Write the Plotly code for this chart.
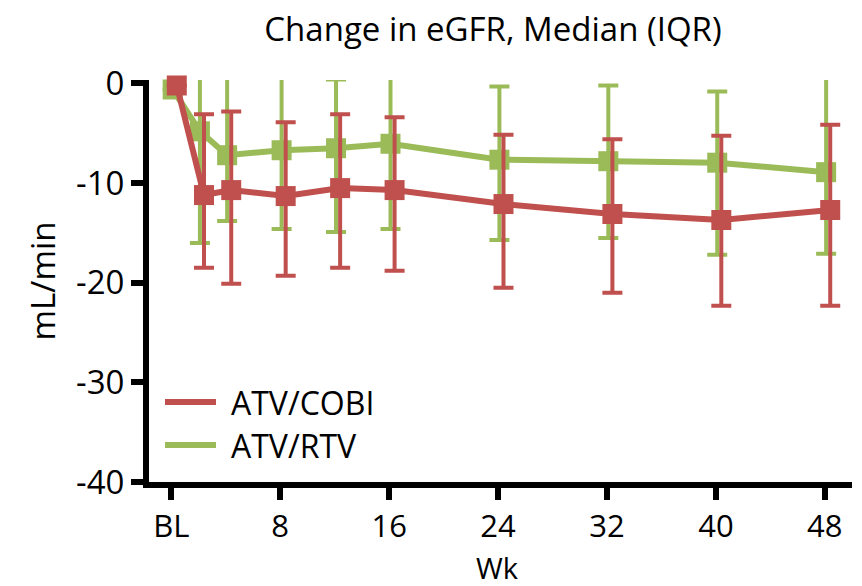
import plotly.graph_objects as go

weeks = [0, 2, 4, 8, 12, 16, 24, 32, 40, 48]
tick_weeks = [0, 8, 16, 24, 32, 40, 48]
tick_text = ["BL", "8", "16", "24", "32", "40", "48"]

cobi_median = [-0.2, -11.2, -10.7, -11.3, -10.5, -10.7, -12.1, -13.1, -13.7, -12.7]
cobi_q3 = [-0.2, -3.1, -2.8, -3.9, -3.1, -3.4, -5.15, -5.6, -5.25, -4.15]
cobi_q1 = [-0.2, -18.5, -20.1, -19.3, -18.5, -18.8, -20.5, -21.0, -22.3, -22.3]

rtv_median = [-0.6, -4.8, -7.2, -6.7, -6.5, -6.05, -7.65, -7.8, -7.95, -8.9]
rtv_q3 = [-0.6, 0.8, 1.5, 0.8, 0.4, 2.2, -0.3, -0.2, -0.8, 0.8]
rtv_q1 = [-0.6, -16.0, -13.8, -14.6, -14.9, -14.6, -15.7, -15.5, -17.2, -17.1]

RED = "#C0504D"
GREEN = "#9BBB59"
FONT = "Open Sans"

fig = go.Figure()

def add_series(name, med, q3, q1, color, nudge):
    fig.add_trace(go.Scatter(
        x=[w + nudge for w in weeks], y=med, name=name, mode="lines+markers",
        line=dict(color=color, width=6),
        marker=dict(symbol="square", size=20, color=color),
        error_y=dict(type="data", symmetric=False,
                     array=[a - m for a, m in zip(q3, med)],
                     arrayminus=[m - b for m, b in zip(med, q1)],
                     color=color, thickness=4, width=10),
        showlegend=False, cliponaxis=False,
    ))

add_series("ATV/RTV", rtv_median, rtv_q3, rtv_q1, GREEN, 0.1)
add_series("ATV/COBI", cobi_median, cobi_q3, cobi_q1, RED, 0.4)

# custom legend (paper coords: plot area spans x 149..852, y 80..482 px)
legend_items = [("ATV/COBI", RED, 402), ("ATV/RTV", GREEN, 445)]
for label, color, ypx in legend_items:
    yp = (482 - ypx) / 402
    fig.add_shape(type="line", xref="paper", yref="paper",
                  x0=(165 - 149) / 703, x1=(216 - 149) / 703, y0=yp, y1=yp,
                  line=dict(color=color, width=6))
    fig.add_annotation(text=label, xref="paper", yref="paper",
                       x=(229 - 149) / 703, y=yp, xanchor="left", yanchor="middle",
                       showarrow=False, font=dict(family=FONT, size=32, color="black"))

# x-axis title placed as an annotation just below tick labels
fig.add_annotation(text="Wk", xref="paper", yref="paper",
                   x=(497 - 149) / 703, y=(482 - 567) / 402, xanchor="center", yanchor="middle",
                   showarrow=False, font=dict(family=FONT, size=29, color="black"))

fig.update_layout(
    width=862, height=586,
    margin=dict(l=149, r=10, t=80, b=104, autoexpand=False),
    plot_bgcolor="white", paper_bgcolor="white",
    font=dict(family=FONT, size=33, color="black"),
    title=dict(text="Change in eGFR, Median (IQR)", x=493 / 862, xanchor="center",
               y=1 - 29 / 586, yanchor="middle", font=dict(family=FONT, size=33, color="black")),
    xaxis=dict(range=[-1.64, 50.0], tickvals=tick_weeks, ticktext=tick_text,
               tickfont=dict(family=FONT, size=31), automargin=False,
               showline=True, linewidth=6, linecolor="black", ticks="outside",
               ticklen=12, tickwidth=6, tickcolor="black", showgrid=False, zeroline=False),
    yaxis=dict(range=[-40, 0.35], tickvals=[0, -10, -20, -30, -40],
               ticktext=["0", "-10", "-20", "-30", "-40"],
               tickfont=dict(family=FONT, size=33), automargin=False,
               showline=True, linewidth=6, linecolor="black", ticks="outside",
               ticklen=12, tickwidth=6, tickcolor="black", showgrid=False, zeroline=False,
               title=dict(text="mL/min", font=dict(family=FONT, size=33), standoff=12)),
)

fig.write_html("out.html")
